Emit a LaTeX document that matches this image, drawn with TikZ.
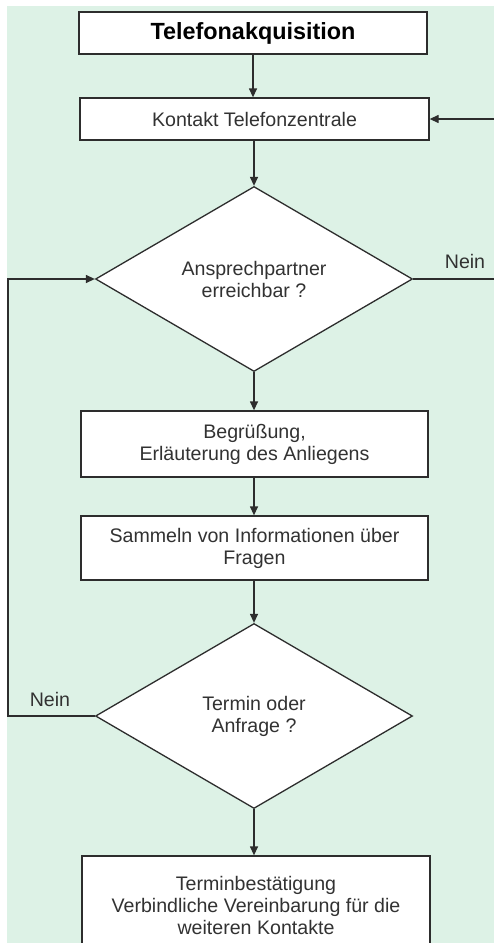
\documentclass[tikz,border=0pt]{standalone}
\usepackage{fontspec}
\setmainfont{Liberation Sans}
\usetikzlibrary{shapes.geometric,arrows.meta}
\definecolor{bggreen}{RGB}{221,242,230}
\definecolor{linegray}{RGB}{45,45,45}
\definecolor{textgray}{RGB}{50,50,50}
\begin{document}
\begin{tikzpicture}[x=1pt,y=-1pt,
  basefont/.style={font=\fontsize{19.6}{22}\selectfont, text=textgray},
  stepbox/.style={draw=linegray, line width=1.3pt, fill=white, rectangle, inner sep=0pt, align=center, basefont},
  decision/.style={draw=linegray, line width=1.3pt, fill=white, diamond, inner sep=0pt, align=center, basefont, minimum width=317pt, minimum height=185pt},
  conn/.style={draw=linegray, line width=1.3pt},
  arr/.style={conn, -{Triangle[length=9pt,width=8pt]}},
  lbl/.style={basefont, inner sep=0pt}
]
\useasboundingbox (0,0) rectangle (494,943);
\clip (0,0) rectangle (494,943);
\fill[bggreen] (7,6) rectangle (500,950);

\node[stepbox, minimum width=348pt, minimum height=42pt, font=\fontsize{23.4}{26}\selectfont\bfseries, text=black] (title) at (253,33) {Telefonakquisition};
\node[stepbox, minimum width=349pt, minimum height=42pt] (zentrale) at (254.5,119) {Kontakt Telefonzentrale};
\node[decision] (erreichbar) at (254,279) {Ansprechpartner\\erreichbar ?};
\node[stepbox, minimum width=347pt, minimum height=66pt] (begruessung) at (254.5,444) {Begrüßung,\\Erläuterung des Anliegens};
\node[stepbox, minimum width=347pt, minimum height=64pt] (sammeln) at (254.5,548) {Sammeln von Informationen über\\Fragen};
\node[decision] (termin) at (254,716) {Termin oder\\Anfrage ?};
\node[stepbox, minimum width=348pt, minimum height=99pt] (bestaetigung) at (256,905.5) {Terminbestätigung\\Verbindliche Vereinbarung für die\\weiteren Kontakte};

\coordinate (rin) at (494,119);
\coordinate (rout) at (494,279);
\coordinate (lcorner1) at (8,716);
\coordinate (lcorner2) at (8,279);

\draw[arr] (title.south) -- (title.south |- zentrale.north);
\draw[arr] (zentrale.south -| erreichbar.north) -- (erreichbar.north);
\draw[arr] (erreichbar.south) -- (erreichbar.south |- begruessung.north);
\draw[arr] (begruessung.south -| erreichbar.south) -- (erreichbar.south |- sammeln.north);
\draw[arr] (sammeln.south -| termin.north) -- (termin.north);
\draw[arr] (termin.south) -- (termin.south |- bestaetigung.north);

\draw[conn] (erreichbar.east) -- (rout);
\draw[arr] (rin) -- (zentrale.east);
\draw[arr] (termin.west) -- (lcorner1) -- (lcorner2) -- (erreichbar.west);

\node[lbl] (neinr) at (465,261) {Nein};
\node[lbl] (neinl) at (50,699) {Nein};
\end{tikzpicture}
\end{document}
